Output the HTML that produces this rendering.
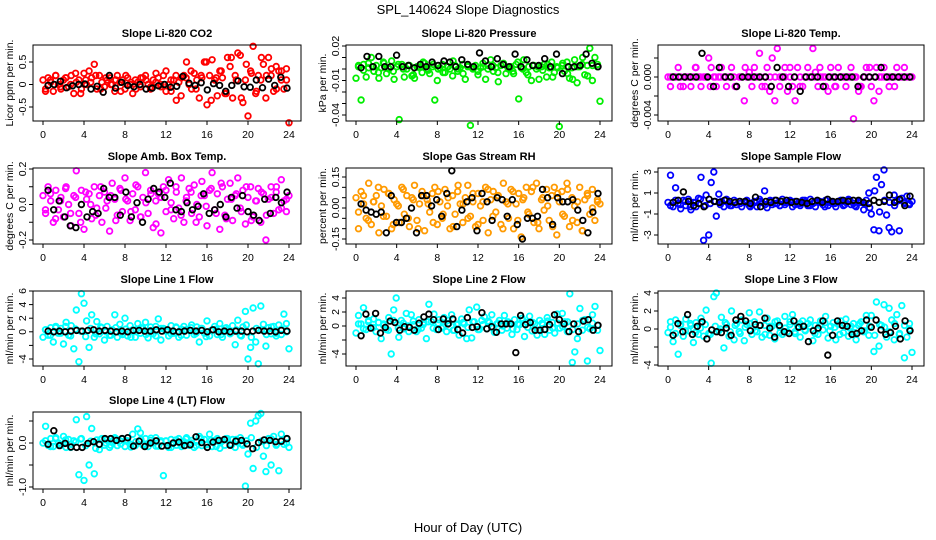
<!DOCTYPE html>
<html><head><meta charset="utf-8"><style>
html,body{margin:0;padding:0;background:#fff;}
svg{display:block;font-family:"Liberation Sans",sans-serif;}
</style></head><body>
<svg id="chart" width="936" height="540" viewBox="0 0 936 540">
<text x="468" y="14" text-anchor="middle" font-size="13">SPL_140624  Slope Diagnostics</text>
<text x="468" y="532" text-anchor="middle" font-size="13">Hour of Day (UTC)</text>
</svg>
<script>
const xTicks=[0,4,8,12,16,20,24];

const co2Main=[0.1,-0.1,0.15,0.05,-0.15,0.2,0,-0.1,0.1,0.15,-0.05,0.2,-0.2,0.05,0.1,-0.1,0.25,0,0.3,0.15,0.45,-0.1,0.2,0.05,-0.05,0.1,0.15,0,-0.15,0.2,0.05,0.1,-0.1,0.15,0,-0.2,0.1,0.05,-0.05,0.15,0.2,0,-0.1,0.1,0.05,0.15,-0.05,0.2,0.3,0,-0.15,0.1,-0.35,0.05,0.15,0.2,0.5,0,-0.1,0.25,0.1,-0.3,0.15,0.5,-0.45,0.2,0.55,0.1,-0.25,0.3,0.15,-0.2,0.6,0.4,-0.3,0.2,0.7,0.65,-0.4,0.1,-0.7,0.3,0.85,-0.2,0.2,0.1,0.45,-0.3,0.6,0.2,-0.15,0.4,0.3,0.1,-0.1,0.35,-0.85];
const co2Sec=[-0.15,0.1,0.2,-0.05,0.15,0,0.25,-0.2,0.1,0.05,0.2,-0.1,0.15,0,0.1,-0.15,0.2,0.05,-0.1,0.15,0.1,-0.05,0.25,0,-0.15,0.1,0.2,-0.25,0.15,0.3,-0.1,0.2,0.5,-0.35,0.15,0.3,-0.2,0.6,0.1,-0.3,0.45,0.25,-0.15,0.6,0.2,0.35,-0.1,0.3,0.1];
const co2Black=[-0.02,0,0.07,-0.07,-0.03,0,0.01,-0.1,-0.04,-0.17,0.2,-0.08,0.05,-0.02,-0.05,0,-0.1,-0.08,-0.03,0,-0.06,-0.04,0.18,0.03,-0.02,0.04,-0.12,0.02,-0.02,-0.15,-0.02,0.08,-0.05,-0.06,0.1,-0.07,0.12,-0.02,0.16,-0.08];

const presMain=[-0.008,0.002,-0.027,0.004,-0.007,0.001,0.01,-0.002,0.003,-0.008,0.001,0.005,-0.004,0,0.007,-0.009,0.002,-0.044,0.004,-0.007,0,0.003,-0.006,-0.008,0.002,0.001,-0.003,0.005,0,-0.004,0.002,-0.027,-0.01,0.001,0.004,-0.003,0.002,0,-0.006,0.003,-0.002,0.001,0.004,-0.009,0.002,-0.049,0,0.003,-0.005,0.001,0.002,-0.009,0.003,0.008,-0.002,0.001,-0.011,0.003,0.005,-0.004,0,0.002,-0.004,0.004,-0.026,0.001,0.008,-0.003,0.002,-0.01,0.003,0,-0.009,0.002,0.004,-0.007,0.001,0.006,-0.003,0.002,-0.05,0.003,-0.002,0.006,-0.008,0.001,0.008,-0.012,0.002,0.004,-0.005,0.003,0.018,-0.01,0.01,0.002,-0.028];
const presSec=[0.003,-0.001,0.005,0.002,-0.003,0.006,0.001,-0.002,0.004,0,0.003,-0.005,0.002,0.006,-0.001,0.004,0,-0.003,0.002,0.007,0,-0.004,0.003,0.001,-0.002,0.005,0,0.003,-0.003,0.004,0.001,-0.002,0.006,0,-0.005,0.003,0.002,-0.001,0.004,-0.007,0.001,0.005,-0.004,-0.009,0.002,0.01,-0.006,0.003,0.004];
const presBlack=[0.001,0.011,0.002,0.011,0.002,0.002,0.012,0.002,0.003,0.001,0.004,0.002,0.006,0.003,0.007,0.006,0.002,0.008,0.004,0.002,0.014,0.007,0.002,0.009,0.004,0.002,0.013,0.002,0.008,0.003,0.003,0.009,0.002,0.013,-0.004,0.002,0.002,0.003,0.013,0.005,0.002];

const tempMain=[0,-0.001,0,0,0.001,0,-0.001,0,0,-0.001,0,0.001,0,-0.001,0,0,0.002,0.001,0,-0.001,0,0.001,0,-0.001,0,0.001,0,-0.001,0,0,-0.0025,0,0.0005,-0.001,0.001,0,0.0025,-0.001,0,0.001,-0.0015,0.002,-0.0025,0.003,-0.001,0,0.001,-0.0015,0,-0.001,-0.0025,0.001,0,-0.001,0,0.001,0,0.003,0.0005,-0.001,0,0,-0.001,-0.0015,0.001,0,-0.001,0.001,0,0,-0.001,0,0.001,-0.0044,0,-0.0015,-0.001,0,0.001,0,-0.001,-0.0025,0.001,-0.0015,0,0.001,0,-0.001,0,0,0.001,0,0,0.001,0,0,0];
const tempSec=[0,0,-0.001,0,0,0.001,0,0,-0.001,0,0,0,0,-0.001,0,0.001,0,0,0,-0.001,0,0,0,0,0.001,0,-0.001,0,0,0,0.001,0,0,-0.001,0,0,0,0,-0.001,0,0.001,0,0,0,0,-0.001,0,0,0];
const tempBlack=[0,0,0,0,0,0.0025,0,-0.001,0.001,0,0,-0.001,0,0,0,0,0,-0.001,0.001,0,-0.001,0,-0.0015,0,0,0,-0.001,0,0,0,0,0,-0.001,0,0,0,0.001,0,0,0,0,0];

const boxMain=[0.05,-0.05,0.1,0.02,-0.1,0.08,-0.03,0.04,-0.07,0.1,0,-0.12,0.05,0.19,-0.05,0.08,-0.14,0.03,0.06,-0.08,0.1,-0.02,0.05,-0.1,0.07,0.02,-0.15,0.12,0.03,-0.06,0.09,-0.04,0.15,0.02,-0.09,0.06,-0.03,0.1,-0.07,0.04,0.18,-0.05,0.08,-0.13,0.02,0.06,-0.16,0.1,-0.04,0.14,0.01,-0.08,0.07,-0.02,0.15,-0.1,0.04,0.09,-0.05,0.11,0,-0.07,0.13,0.05,-0.12,0.08,0.18,-0.03,0.06,-0.14,0.1,-0.06,0.03,0.12,-0.09,0.05,0.15,-0.02,0.08,-0.11,0.04,0.1,-0.07,0.02,0.09,-0.1,0.06,-0.2,0.03,0.1,-0.05,0.07,-0.03,0.14,0.02,-0.04,0.05];
const boxSec=[-0.03,0.06,-0.08,0.02,0.09,-0.05,0.04,-0.1,0.07,0,-0.06,0.1,-0.02,0.05,-0.09,0.08,0.03,-0.04,0.11,-0.07,0.01,0.06,-0.11,0.04,0.08,-0.03,0.1,-0.06,0.02,0.07,-0.1,0.05,-0.01,0.09,-0.05,0.12,-0.08,0.03,0.06,-0.04,0.1,-0.09,0.02,0.07,-0.06,0.04,0.1,-0.02,0.03];
const boxBlack=[0.08,-0.03,0.02,-0.07,-0.12,-0.13,0,-0.07,-0.04,-0.05,0.09,0.04,0.04,-0.06,0.07,-0.07,0.01,-0.1,0.03,0.09,0.07,0.04,0.12,-0.03,-0.04,0.01,-0.03,-0.01,0.06,-0.05,-0.03,0,-0.07,0.04,-0.02,0.05,-0.04,-0.06,-0.09,0.03,-0.05,0.04,0.01,0.07];

const rhMain=[0.05,-0.1,0.08,0.02,-0.05,0.12,-0.08,0.03,0.06,-0.12,0.01,0.09,-0.04,0.07,-0.1,0.04,0.02,-0.07,0.1,-0.03,0.06,-0.09,0.05,0.11,-0.06,0.02,0.08,-0.11,0.04,-0.02,0.07,0.1,-0.08,0.03,-0.05,0.09,0.01,-0.1,0.06,-0.03,0.08,0.02,-0.07,0.05,0.11,-0.04,0.03,-0.09,0.07,0.01,-0.06,0.1,-0.12,0.04,0.08,-0.02,0.06,-0.08,0.12,0.03,-0.05,0.09,-0.1,0.02,0.07,-0.14,0.05,0.1,-0.03,0.08,-0.07,0.12,-0.1,0.04,-0.01,0.09,-0.06,0.06,0.1,-0.13,0.03,0.08,-0.04,0.12,-0.09,0.05,0.01,-0.07,0.1,-0.11,0.04,0.07,-0.03,0.09,-0.06,0.03,0.02];
const rhSec=[-0.02,0.06,-0.06,0.03,0.1,-0.04,0.07,-0.08,0.01,0.09,-0.05,0.04,-0.1,0.06,0.02,-0.07,0.08,-0.03,0.05,-0.09,0.11,0.02,-0.05,0.07,-0.08,0.03,0.09,-0.04,0.06,-0.1,0.02,0.08,-0.06,0.04,-0.02,0.1,-0.07,0.05,0.01,-0.09,0.07,-0.03,0.09,-0.06,0.03,-0.11,0.06,0,0.04];
const rhBlack=[0.02,-0.01,-0.02,-0.03,-0.02,-0.12,0.06,-0.07,-0.07,-0.05,0,-0.12,0.06,0.06,0.01,0.04,-0.04,0.07,0.18,-0.09,-0.01,0.03,0.05,-0.11,0.07,0.03,-0.06,0.05,0.04,-0.04,0.04,-0.08,-0.15,-0.05,-0.05,-0.04,0.09,0.05,-0.08,0.05,0.03,0.03,0.04,-0.01,-0.06,-0.12,-0.02,0.07];

const sampMain=[0.1,2.7,-0.3,1.5,0,-0.5,0.3,-0.2,0.4,-0.6,0.1,-0.3,0.5,2.5,-3.5,0.8,-3,2,3,-1.2,0.9,0.2,-0.3,0.4,0,-0.2,0.3,-0.1,0.2,-0.3,0.1,0.3,-0.2,0,0.2,-0.3,0.4,0.1,1.2,-0.4,0.2,-0.1,0.3,0,-0.2,0.4,-0.1,0.1,0.3,-0.3,0.2,0,-0.2,0.3,0.1,-0.2,0.4,0,-0.3,0.2,0.1,-0.1,0.3,-0.2,0.2,0,-0.3,0.1,0.3,-0.2,0.1,0.4,-0.1,0,-0.3,0.2,0.1,-0.6,0.3,1,-1,-2.5,2.5,-2.6,1.8,3.2,-1.1,-2.3,-2.7,0.8,0.2,-2.6,0.5,0,0.7,-0.1,0.2];
const sampSec=[-0.2,0.3,-0.1,0.2,-0.3,0.1,0.4,-0.2,0,0.2,-0.1,0.3,-0.2,0.1,0,0.2,-0.3,0.1,0.2,-0.1,0.3,0,-0.2,0.1,0.2,-0.1,0,0.3,-0.2,0.1,0.2,-0.3,0.1,0,0.2,-0.1,0.3,-0.2,0.1,0,-0.4,1.2,-0.8,0.3,0.1,-0.2,0.3,0.1,0];
const sampBlack=[0.1,0.3,1.1,0.2,-0.2,0,-0.3,0.4,0.2,0.1,0.3,0.2,0.1,0.2,0.2,0,0.6,-0.3,0.2,0.1,0.3,0.2,0.3,0.1,0.2,0.1,0,0.2,0.3,0.1,0.4,0.2,0.2,0.3,0.2,0.3,0.3,0.1,0,0.3,0.1,0.2,0.8,0.1,0.4,-0.2,0.7];

const l1Main=[-0.8,0.3,-0.5,0.6,-1.5,0.8,-0.2,0.5,-1.8,1.4,-0.5,0.9,-2.5,3.2,-4.4,5.6,4.2,1.6,-2.3,2.5,-0.8,1.5,-0.3,0.6,-1.2,0.8,-0.5,0.3,2.5,-0.8,1.1,-0.4,2,-0.6,0.9,0.3,-0.8,1.2,-0.2,0.5,1.4,-0.9,0.7,-0.3,0.8,1.9,-1.2,0.5,0.2,-0.6,0.9,-0.2,0.6,-0.8,0.4,0.8,-0.5,0.3,1,-0.4,0.7,-1.5,0.5,-0.2,1.6,-0.6,0.3,0.8,-0.4,1.2,-0.8,0.5,0.2,-0.3,0.9,-1.9,1.7,-0.5,0.7,3,-4,-2.3,3.5,-1.5,-4.7,3.8,1.1,-2.1,0.6,-0.3,0.8,-0.6,1,-0.4,2.6,1.2,-2.5];
const l1Sec=[0.3,-0.5,0.6,-0.2,0.8,-0.6,0.4,0.1,-0.7,0.5,-0.3,0.7,0,-0.5,0.6,-0.2,0.4,-0.8,0.3,0.6,-0.4,0.2,-0.6,0.5,0.1,-0.3,0.7,-0.5,0.3,0.6,-0.2,0.5,-0.7,0.2,0.4,-0.4,0.6,-0.1,0.3,-0.6,1,-0.8,0.5,0.3,-0.4,0.7,-0.2,0.4,0];
const l1Black=[0.1,0,0.1,0,0.1,0.2,0.1,0.2,0.3,0.1,0.2,0.1,0,0.1,0,0.2,0.2,0.1,0.1,0.3,0.1,0.3,0.1,0,0.1,0.2,0.1,0.2,0,0.3,0,0.1,0,0.1,0.1,0,0.1,0.2,0.1,0.1,0,0.2,0.1];

const l2Main=[-1,1.5,0.3,2.6,-0.5,0.8,-0.2,1,-0.8,0.5,-1.8,0.3,-0.5,1.2,-4,2.3,4,-1.6,0.8,-0.4,1.8,-0.8,1.6,0.2,-0.8,0.9,-0.3,0.5,-1.8,3.1,0.6,1.7,-0.5,0.9,-0.3,1.2,-0.8,0.4,1.6,-0.6,0.2,-1.3,1,0.3,-1.8,2.3,-1.7,0.6,2.7,-0.5,0.8,1.3,-0.4,0.5,1.6,-0.9,0.3,0.8,-0.6,1.5,-0.3,0.4,-1.2,0.9,-0.5,0.2,1.1,-1.5,0.5,1.4,-0.7,0.3,-1.3,0.8,0.4,-1.2,1.2,-0.6,0.5,-1,1.7,-0.3,1.8,0.6,-0.8,4.6,-5.2,-3.7,-1.8,2.5,-0.6,0.9,-5,-0.4,1.6,2.8,-0.6,-3.5];
const l2Sec=[0.3,-0.4,0.6,-0.2,0.5,0.1,-0.6,0.8,-0.3,0.4,0,0.7,-0.5,0.2,0.6,-0.3,0.4,-0.1,0.8,-0.6,0.3,0.5,-0.2,0.6,-0.5,0.2,0.7,-0.3,0.4,0,0.6,-0.4,0.3,0.8,-0.2,0.5,-0.6,0.2,0.7,-0.3,0.4,-0.1,0.6,-0.5,0.3,0.8,-0.2,0.4,0.1];
const l2Black=[-1.4,1.7,-0.3,1.8,-1,-0.2,0.7,0.5,-0.6,-0.1,-0.2,-0.6,0.4,1.3,1.7,0.9,-0.5,1,0.3,1,-0.5,-1,1.2,-0.2,-0.1,1.9,-0.4,-0.1,-0.9,0.3,0.3,0.3,-3.8,1.5,0.2,0.5,-0.6,-0.6,-0.5,0.2,1.6,0.9,0.3,-0.8,0.3,-0.8,0.7,0.9,-0.6,0.1];

const l3Main=[-0.4,0.8,-1.4,1,-2.8,0.5,-0.8,1.1,-0.2,0.4,-1.5,0.7,-0.6,1.2,-0.8,2.1,-0.5,-3.8,3.6,4,-0.2,1.3,-2.1,0.5,-0.8,2,-1.2,0.6,-0.3,1,-1.3,0.5,1.8,-0.6,0.8,-0.3,1.9,-0.9,0.4,1.2,-0.7,0.3,-1.1,0.9,0.2,-0.6,1.4,-0.3,0.8,1.6,-0.5,0.3,-0.9,0.9,-0.2,0.6,1,-1.3,0.4,-0.6,0.9,-0.1,1.4,-1,0.3,0.7,-1.2,0.5,0.9,-0.4,1.1,-0.8,0.3,0.6,-1.2,0.4,0.8,-0.3,1.5,-0.7,1.5,-2.5,3,-1.9,0.4,2.7,-0.9,2.3,1,-1.2,1.6,-0.6,2.6,-3.2,-0.9,0.6,-2.6];
const l3Sec=[0.2,-0.5,0.4,-0.2,0.6,-0.4,0.1,0.5,-0.6,0.3,0,0.7,-0.3,0.4,-0.5,0.2,0.6,-0.2,0.4,-0.6,0.3,0.8,-0.4,0.1,0.5,-0.3,0.6,-0.1,0.3,-0.5,0.4,0.7,-0.2,0.2,-0.6,0.5,0.1,-0.4,0.6,-0.2,0.3,-0.7,0.5,0.2,-0.3,0.6,-0.5,0.4,0];
const l3Black=[-0.7,0.6,-0.3,1.6,-0.6,0.3,0.8,-1.1,-0.1,-0.3,-0.4,0.1,-0.7,1,1.4,0.9,-0.2,0.5,0.4,1.2,0.1,-0.9,0.4,-0.3,-0.5,0.9,0.2,0.3,-1.4,-0.2,0.1,0.9,-2.9,-0.7,0.9,0.4,0.3,-0.6,-0.5,-0.2,1,0.2,1,-0.1,-0.6,-0.4,0.3,-1.1,0.9,-0.2];

const l4Main=[0,0.38,-0.05,0.1,-0.08,0.12,0,-0.05,0.15,-0.1,0.08,-0.03,0.05,0.53,-0.72,0.1,-0.85,0.6,-0.5,0.33,-0.7,0.07,-0.15,0.1,-0.05,0.08,-0.1,0.03,0.12,-0.06,0.05,0.1,-0.08,0.05,-0.03,0.2,-0.06,0.32,0.23,-0.05,0.1,-0.08,0.06,0,0.12,-0.07,0.05,-0.74,0.04,-0.1,0.08,0,-0.05,0.1,-0.08,0.03,0.12,-0.05,0.06,-0.1,0.04,0.15,-0.06,0.08,-0.03,0.2,-0.08,0.06,0.1,-0.12,0.05,-0.05,0.1,-0.02,0.08,-0.1,0.05,0.12,-0.05,-0.98,-0.25,0.45,-0.58,0.5,0.62,0.67,-0.3,-0.65,0.1,-0.5,0.15,-0.05,-0.63,0.2,-0.03,0.1,-0.1];
const l4Sec=[0.05,-0.08,0.1,-0.03,0.07,-0.1,0.02,0.09,-0.06,0.04,-0.12,0.08,0,-0.05,0.1,-0.02,0.06,-0.09,0.03,0.08,-0.04,0.11,-0.07,0.02,0.05,-0.1,0.07,-0.03,0.09,0,-0.06,0.1,-0.04,0.06,-0.08,0.03,0.1,-0.05,0.08,-0.02,0.05,0.12,-0.1,0.04,-0.06,0.09,-0.03,0.06,0];
const l4Black=[-0.03,0.28,-0.06,-0.01,-0.09,-0.1,-0.1,-0.01,0.03,-0.03,0.1,0.1,0.06,0.1,0.12,-0.07,0.04,-0.08,0,0.05,-0.07,-0.06,0,0.02,-0.06,-0.04,0.14,0.01,-0.1,0.02,0.06,0.08,-0.05,0.04,0.06,-0.02,-0.13,0.01,0.07,0.06,0.03,0.04,0.1];

const panels=[
 {id:'co2',title:'Slope Li-820 CO2',ylab:'Licor ppm per min.',color:'#ff0000',main:co2Main,sec:co2Sec,black:co2Black,col:0,row:0,ref:[0.5,62,-0.5,107],ticks:[-0.5,0,0.5],labels:[['-0.5',-0.5],['0.5',0.5],['0',0]]},
 {id:'pressure',title:'Slope Li-820 Pressure',ylab:'kPa per min.',color:'#00ee00',main:presMain,sec:presSec,black:presBlack,col:1,row:0,ref:[0.02,46,-0.04,115],ticks:[0.02,0.01,0,-0.01,-0.02,-0.03,-0.04],labels:[['0.02',0.02],['-0.01',-0.01],['-0.04',-0.04]]},
 {id:'temp',title:'Slope Li-820 Temp.',ylab:'degrees C per min.',color:'#ff00ff',main:tempMain,sec:tempSec,black:tempBlack,col:2,row:0,ref:[0,77,-0.004,115],ticks:[0.002,0,-0.002,-0.004],labels:[['0.000',0],['-0.004',-0.004]]},
 {id:'ambbox',title:'Slope Amb. Box Temp.',ylab:'degrees C per min.',color:'#ff00ff',main:boxMain,sec:boxSec,black:boxBlack,col:0,row:1,ref:[0.2,169,-0.2,240],ticks:[0.2,0.1,0,-0.1,-0.2],labels:[['0.2',0.2],['0.0',0],['-0.2',-0.2]]},
 {id:'rh',title:'Slope Gas Stream RH',ylab:'percent per min.',color:'#ff9a00',main:rhMain,sec:rhSec,black:rhBlack,col:1,row:1,ref:[0.15,177,-0.15,239],ticks:[0.15,0.1,0.05,0,-0.05,-0.1,-0.15],labels:[['0.15',0.15],['0.00',0],['-0.15',-0.15]]},
 {id:'sample',title:'Slope Sample Flow',ylab:'ml/min per min.',color:'#0000ff',main:sampMain,sec:sampSec,black:sampBlack,col:2,row:1,ref:[3,172,-3,235],ticks:[3,1,-1,-3],labels:[['3',3],['1',1],['-1',-1],['-3',-3]]},
 {id:'line1',title:'Slope Line 1 Flow',ylab:'ml/min per min.',color:'#00ffff',main:l1Main,sec:l1Sec,black:l1Black,col:0,row:2,ref:[6,291,-4,359],ticks:[6,4,2,0,-2,-4],labels:[['6',6],['4',4],['2',2],['0',0],['-4',-4]]},
 {id:'line2',title:'Slope Line 2 Flow',ylab:'ml/min per min.',color:'#00ffff',main:l2Main,sec:l2Sec,black:l2Black,col:1,row:2,ref:[4,298,-4,354],ticks:[4,2,0,-2,-4],labels:[['4',4],['2',2],['0',0],['-4',-4]]},
 {id:'line3',title:'Slope Line 3 Flow',ylab:'ml/min per min.',color:'#00ffff',main:l3Main,sec:l3Sec,black:l3Black,col:2,row:2,ref:[4,293,-4,365],ticks:[4,2,0,-2,-4],labels:[['4',4],['2',2],['0',0],['-4',-4]]},
 {id:'line4',title:'Slope Line 4 (LT) Flow',ylab:'ml/min per min.',color:'#00ffff',main:l4Main,sec:l4Sec,black:l4Black,col:0,row:3,ref:[0,443,-1,487],ticks:[0.5,0,-0.5,-1],labels:[['0.0',0],['-1.0',-1]]}
];
const colL=[33,346,658],colR=[301,612,924];
const rowT=[45,168,291,412],rowB=[121,244,366,489];
const NS='http://www.w3.org/2000/svg';
const svg=document.getElementById('chart');
function mk(tag,attrs,parent){const e=document.createElementNS(NS,tag);for(const k in attrs)e.setAttribute(k,attrs[k]);parent.appendChild(e);return e;}

panels.forEach(p=>{
  const L=colL[p.col],R=colR[p.col],T=rowT[p.row],B=rowB[p.row];
  const x0=L+10,x1=R-12;
  const xs=h=>x0+(x1-x0)*h/24;
  const [v1,y1,v2,y2]=p.ref;
  const ys=v=>y1+(v-v1)*(y2-y1)/(v2-v1);
  const g=mk('g',{},svg);
  
  
  const t=mk('text',{x:(L+R)/2,y:T-8,'text-anchor':'middle','font-size':'11','font-weight':'bold'},g);
  t.textContent=p.title;
  
  
  const yl=mk('text',{x:0,y:0,'text-anchor':'middle','font-size':'10.5',transform:`translate(${L-20},${(T+B)/2}) rotate(-90)`},g);
  yl.textContent=p.ylab;
  
  
  const plot=mk('g',{fill:'none','stroke-width':'1.8'},g);
  
  
  const n=p.main.length;
  p.main.forEach((v,i)=>{
    const c=mk('circle',{cx:xs(24*i/(n-1)).toFixed(1),cy:ys(v).toFixed(1),r:2.8,stroke:p.color},plot);
    
    
  });
  const m=p.sec.length;
  p.sec.forEach((v,i)=>{
    const c=mk('circle',{cx:xs(24*(i+0.5)/m).toFixed(1),cy:ys(v).toFixed(1),r:2.8,stroke:p.color},plot);
    
    
  });
  const k=p.black.length;
  p.black.forEach((v,i)=>{
    const c=mk('circle',{cx:xs(0.5+23.3*i/(k-1)).toFixed(1),cy:ys(v).toFixed(1),r:2.8,stroke:'#000'},plot);
    
    
  });
  const box=mk('rect',{x:L,y:T,width:R-L,height:B-T,fill:'none',stroke:'#000','stroke-width':'1'},g);
  
  
  xTicks.forEach(h=>{
    mk('line',{x1:xs(h),x2:xs(h),y1:B,y2:B+4,stroke:'#000'},g);
    const tl=mk('text',{x:xs(h),y:B+17,'text-anchor':'middle','font-size':'10.5'},g);
    tl.textContent=h;
    
    
  });
  p.ticks.forEach(v=>{mk('line',{x1:L-4,x2:L,y1:ys(v),y2:ys(v),stroke:'#000'},g);});
  p.labels.forEach(([s,v])=>{
    const tl=mk('text',{x:0,y:0,'text-anchor':'middle','font-size':'10.5',transform:`translate(${L-7},${ys(v)}) rotate(-90)`},g);
    tl.textContent=s;
    
    
  });
});
</script>
</body></html>
